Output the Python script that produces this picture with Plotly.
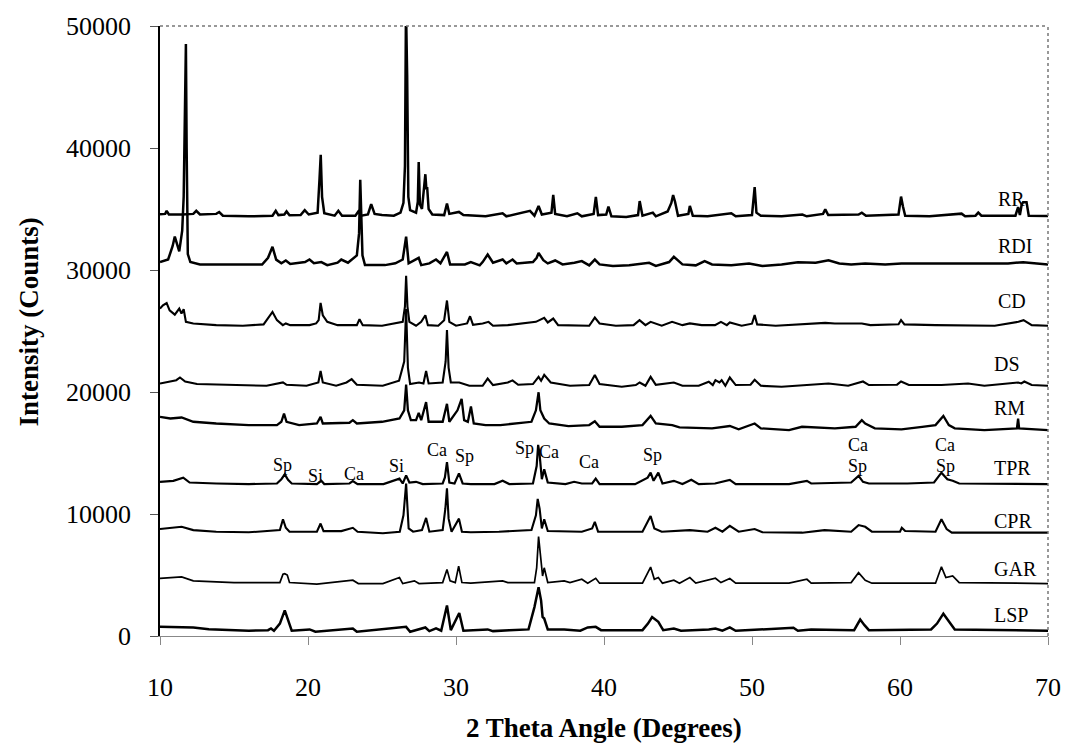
import plotly.graph_objects as go

# ---------------- data: (2-theta in degrees, intensity in counts) ----------------
RR = [(10.0, 34570), (10.35, 34600), (10.45, 34850), (10.6, 34550), (11.5, 34550), (12.25, 34600), (12.45, 34850),
      (12.7, 34550), (13.8, 34600), (14.0, 34750), (14.25, 34450), (16.0, 34400), (17.6, 34450), (17.82, 34850),
      (18.0, 34500), (18.4, 34550), (18.55, 34800), (18.75, 34480), (19.5, 34500), (19.78, 34900), (20.05, 34550),
      (20.65, 34700), (20.78, 37500), (20.86, 39450), (20.95, 36000), (21.1, 34650), (21.8, 34450), (22.05, 34850),
      (22.3, 34450), (23.2, 34450), (23.4, 34800), (23.6, 34450), (24.05, 34550), (24.27, 35400), (24.5, 34600),
      (25.0, 34500), (25.8, 34450), (26.25, 34700), (26.45, 35500), (26.55, 38500), (26.62, 51500), (26.7, 46000),
      (26.78, 36000), (26.9, 34900), (27.3, 34700), (27.42, 35600), (27.48, 38850), (27.56, 35400), (27.7, 35000),
      (27.82, 36800), (27.93, 37850), (28.0, 36600), (28.05, 36800), (28.15, 35000), (28.4, 34550), (29.2, 34500),
      (29.39, 35450), (29.55, 34600), (30.2, 34760), (30.5, 34500), (32.0, 34400), (33.15, 34650), (33.4, 34400),
      (35.0, 34850), (35.3, 34450), (35.58, 35250), (35.8, 34550), (36.45, 34700), (36.57, 36150), (36.7, 34600),
      (37.5, 34400), (38.2, 34650), (38.5, 34400), (39.3, 34600), (39.45, 36000), (39.6, 34500), (40.15, 34550),
      (40.3, 35200), (40.5, 34400), (41.5, 34350), (42.3, 34500), (42.41, 35650), (42.6, 34450), (43.3, 34700),
      (43.5, 34400), (44.3, 34800), (44.55, 35500), (44.67, 36150), (44.8, 35600), (45.0, 34450), (45.7, 34600),
      (45.8, 35250), (46.0, 34450), (47.0, 34400), (48.6, 34650), (48.9, 34400), (50.0, 34500), (50.18, 36800),
      (50.3, 34700), (50.6, 34450), (52.0, 34400), (53.4, 34550), (53.7, 34400), (54.8, 34600), (54.95, 34970),
      (55.15, 34500), (57.2, 34550), (57.42, 34700), (57.7, 34450), (59.9, 34550), (60.07, 36020), (60.2, 35200),
      (60.35, 34450), (62.0, 34400), (64.16, 34620), (64.4, 34400), (65.1, 34450), (65.29, 34700), (65.5, 34450),
      (67.8, 34450), (67.98, 35160), (68.1, 34500), (68.22, 35350), (68.32, 35560), (68.55, 35560), (68.7, 34450),
      (70.0, 34420)]

RDI = [(10.0, 30650), (10.55, 30860), (10.85, 31950), (11.0, 32740), (11.3, 31530), (11.5, 33230), (11.6, 36000),
       (11.68, 45000), (11.75, 48520), (11.8, 40000), (11.88, 31300), (12.05, 30650), (12.7, 30460), (15.0, 30460),
       (16.9, 30450), (17.3, 31000), (17.6, 31900), (17.85, 30850), (18.2, 30550), (18.5, 30780), (18.8, 30500),
       (19.8, 30650), (20.1, 30860), (20.4, 30550), (20.9, 30650), (21.3, 30400), (22.0, 30600), (22.25, 30860),
       (22.7, 30600), (23.3, 31200), (23.45, 33000), (23.53, 37400), (23.6, 34000), (23.68, 31200), (23.85, 30400),
       (25.2, 30400), (25.9, 30550), (26.4, 30860), (26.63, 32740), (26.8, 30550), (27.48, 31000), (27.65, 30400),
       (28.2, 30540), (28.65, 30860), (28.95, 30550), (29.39, 31480), (29.6, 30460), (30.6, 30460), (31.0, 30650),
       (31.6, 30380), (31.8, 30650), (32.14, 31270), (32.5, 30600), (33.15, 30860), (33.4, 30540), (33.82, 30860),
       (34.1, 30540), (35.2, 30650), (35.45, 31000), (35.58, 31400), (35.9, 30800), (36.2, 30540), (36.7, 30780),
       (37.2, 30460), (38.0, 30600), (38.5, 30730), (39.0, 30380), (39.38, 30860), (39.7, 30460), (40.6, 30330),
       (41.7, 30380), (43.05, 30590), (43.5, 30330), (44.4, 30650), (44.72, 31080), (45.3, 30460), (46.2, 30380),
       (46.8, 30730), (47.3, 30460), (48.6, 30380), (49.8, 30540), (50.7, 30330), (52.0, 30450), (53.1, 30640),
       (54.3, 30590), (55.17, 30800), (55.9, 30540), (56.7, 30450), (57.65, 30540), (59.0, 30450), (60.1, 30540),
       (62.1, 30540), (64.6, 30590), (67.3, 30540), (68.32, 30640), (70.0, 30450)]

CD = [(10.0, 26830), (10.2, 27100), (10.45, 27290), (10.65, 26690), (11.0, 26340), (11.3, 26830), (11.45, 26430),
      (11.6, 26780), (11.75, 25750), (12.25, 25620), (13.8, 25480), (15.6, 25430), (17.0, 25540), (17.4, 26160),
      (17.6, 26560), (17.9, 25890), (18.3, 25480), (18.5, 25620), (18.8, 25480), (20.1, 25480), (20.55, 25620),
      (20.72, 25890), (20.85, 27310), (21.0, 26290), (21.3, 25750), (22.0, 25480), (23.3, 25480), (23.48, 25970),
      (23.7, 25480), (25.0, 25430), (26.4, 25750), (26.55, 27000), (26.63, 29520), (26.72, 27000), (26.85, 25750),
      (27.3, 25430), (27.65, 25750), (27.93, 26290), (28.1, 25480), (28.8, 25430), (29.2, 25890), (29.39, 27500),
      (29.55, 25750), (30.0, 25430), (30.75, 25620), (30.95, 26210), (31.15, 25500), (31.8, 25620), (32.2, 25750),
      (32.5, 25430), (33.5, 25480), (35.4, 25750), (35.96, 26080), (36.2, 25700), (36.57, 26020), (36.9, 25480),
      (38.1, 25480), (39.0, 25430), (39.38, 26100), (39.7, 25620), (40.8, 25430), (42.0, 25480), (42.4, 25890),
      (42.8, 25480), (43.15, 25750), (43.9, 25430), (44.6, 25750), (45.3, 25480), (45.8, 25620), (46.6, 25480),
      (47.5, 25480), (47.9, 25750), (48.3, 25480), (48.5, 25700), (49.3, 25430), (50.0, 25600), (50.18, 26300),
      (50.35, 25540), (51.6, 25430), (53.4, 25540), (54.95, 25670), (55.6, 25620), (57.42, 25620), (58.0, 25480),
      (59.9, 25550), (60.07, 25890), (60.3, 25540), (62.4, 25480), (64.6, 25480), (66.4, 25430), (68.0, 25750),
      (68.35, 25890), (68.9, 25480), (70.0, 25430)]

DS = [(10.0, 20700), (11.1, 20970), (11.35, 21190), (11.7, 20860), (12.5, 20650), (15.0, 20590), (17.2, 20510),
      (18.31, 20780), (18.55, 20590), (19.9, 20510), (20.7, 20780), (20.85, 21720), (21.0, 20780), (21.9, 20510),
      (22.6, 20780), (22.95, 21050), (23.3, 20590), (25.05, 20510), (26.15, 20920), (26.5, 22500), (26.63, 26800),
      (26.75, 22000), (26.9, 20650), (27.5, 20780), (27.8, 20700), (27.98, 21720), (28.15, 20700), (29.1, 20780),
      (29.3, 22500), (29.39, 25080), (29.5, 22000), (29.65, 20780), (30.22, 20780), (30.9, 20510), (31.8, 20510),
      (32.14, 21100), (32.5, 20570), (33.5, 20780), (33.82, 20950), (34.2, 20590), (35.2, 20650), (35.58, 21240),
      (35.75, 20920), (35.96, 21400), (36.4, 20780), (37.7, 20510), (39.0, 20570), (39.38, 21400), (39.7, 20650),
      (41.2, 20430), (42.15, 20570), (42.41, 20780), (42.8, 20510), (43.15, 21240), (43.5, 20590), (44.72, 20780),
      (45.3, 20510), (46.4, 20510), (47.08, 20840), (47.35, 20570), (47.53, 20970), (47.8, 20780), (47.95, 20970),
      (48.2, 20510), (48.5, 21190), (48.9, 20570), (49.9, 20600), (50.18, 21000), (50.6, 20510), (52.0, 20430),
      (53.4, 20570), (55.17, 20700), (56.5, 20510), (57.5, 20860), (57.9, 20570), (59.8, 20600), (60.07, 20860),
      (60.6, 20570), (62.8, 20570), (64.6, 20700), (65.7, 20510), (67.98, 20780), (68.2, 20700), (68.4, 20860),
      (68.9, 20570), (70.0, 20510)]

RM = [(10.0, 17960), (10.7, 17830), (11.46, 17910), (12.25, 17560), (13.8, 17420), (16.0, 17290), (17.9, 17290),
      (18.2, 17560), (18.38, 18230), (18.55, 17560), (19.4, 17290), (20.6, 17420), (20.85, 17960), (21.0, 17420),
      (22.8, 17480), (23.03, 17690), (23.3, 17420), (25.0, 17560), (26.18, 17830), (26.5, 18500), (26.63, 20600),
      (26.75, 18500), (26.95, 17690), (27.3, 17690), (27.48, 18280), (27.65, 17690), (27.98, 19170), (28.15, 17560),
      (29.1, 17560), (29.39, 19030), (29.55, 17560), (30.1, 18500), (30.38, 19440), (30.55, 17690), (30.8, 17560),
      (31.01, 18820), (31.2, 17420), (32.0, 17290), (33.0, 17290), (35.1, 17560), (35.4, 18500), (35.58, 19980),
      (35.7, 18500), (35.96, 17830), (36.3, 17420), (37.6, 17210), (39.0, 17290), (39.38, 17600), (39.7, 17150),
      (41.2, 17150), (42.6, 17290), (43.15, 18040), (43.5, 17420), (44.61, 17290), (45.1, 17100), (47.3, 17020),
      (48.5, 17210), (49.1, 16940), (50.18, 17420), (50.6, 17020), (52.5, 16880), (53.38, 17150), (55.6, 17020),
      (57.0, 17150), (57.42, 17690), (57.65, 17420), (58.3, 17020), (60.1, 16940), (61.5, 17150), (62.4, 17290),
      (62.93, 18040), (63.3, 17290), (63.7, 17020), (65.7, 16880), (67.9, 17020), (67.98, 17820), (68.05, 17020),
      (70.0, 16880)]

TPR = [(10.0, 12640), (10.9, 12720), (11.57, 12980), (12.0, 12580), (13.8, 12500), (16.0, 12450), (17.9, 12500),
       (18.2, 12850), (18.43, 13250), (18.65, 12800), (18.9, 12500), (20.6, 12450), (20.9, 12720), (21.1, 12450),
       (22.8, 12500), (23.03, 12690), (23.35, 12450), (25.1, 12450), (26.18, 12900), (26.4, 12500), (26.63, 13170),
       (26.85, 12580), (27.3, 12640), (27.75, 12450), (29.1, 12500), (29.25, 13000), (29.39, 14250), (29.55, 12580),
       (29.9, 12500), (30.2, 13330), (30.45, 12500), (31.0, 12450), (32.6, 12450), (33.15, 12720), (33.6, 12450),
       (35.2, 12500), (35.45, 13930), (35.55, 15670), (35.65, 14870), (35.8, 12850), (35.96, 13660), (36.2, 12580),
       (37.4, 12450), (37.98, 12640), (38.5, 12500), (39.2, 12500), (39.44, 12900), (39.7, 12450), (42.1, 12450),
       (42.95, 12980), (43.15, 13390), (43.35, 12720), (43.67, 13390), (43.95, 12500), (44.72, 12720), (45.3, 12450),
       (45.9, 12800), (46.4, 12450), (47.5, 12500), (48.5, 12800), (48.9, 12450), (52.5, 12450), (53.71, 12720),
       (54.0, 12500), (56.7, 12580), (57.2, 13120), (57.5, 12640), (57.9, 12500), (60.5, 12500), (62.3, 12580),
       (62.8, 13390), (63.2, 12850), (63.56, 12720), (64.0, 12500), (70.0, 12450)]

CPR = [(10.0, 8770), (11.46, 8950), (12.25, 8680), (13.8, 8550), (16.0, 8500), (18.1, 8680), (18.31, 9570),
       (18.5, 8870), (18.75, 8550), (20.6, 8550), (20.85, 9220), (21.05, 8600), (22.25, 8600), (23.03, 8870),
       (23.35, 8550), (25.06, 8420), (26.2, 8550), (26.45, 9890), (26.63, 12500), (26.8, 8820), (27.1, 8550),
       (27.7, 8680), (27.98, 9680), (28.2, 8550), (29.1, 8680), (29.28, 10430), (29.39, 12100), (29.5, 9620),
       (29.7, 8550), (30.05, 9220), (30.2, 9620), (30.4, 8550), (31.0, 8500), (32.9, 8550), (35.1, 8680),
       (35.4, 9890), (35.52, 11240), (35.65, 10430), (35.8, 8820), (35.96, 9570), (36.2, 8600), (38.5, 8550),
       (39.2, 8820), (39.38, 9360), (39.6, 8550), (42.6, 8550), (43.15, 9840), (43.4, 8820), (43.9, 8550),
       (45.8, 8680), (47.0, 8550), (47.53, 8870), (48.0, 8550), (48.5, 9030), (49.1, 8550), (50.18, 8770),
       (50.7, 8500), (53.4, 8470), (54.9, 8680), (56.7, 8550), (57.2, 9090), (57.65, 8950), (58.1, 8550),
       (60.0, 8550), (60.12, 8870), (60.35, 8600), (62.4, 8550), (62.8, 9570), (63.15, 8770), (63.5, 8470),
       (70.0, 8470)]

GAR = [(10.0, 4730), (11.46, 4840), (12.25, 4520), (15.0, 4380), (18.1, 4380), (18.31, 5060), (18.43, 5110),
       (18.6, 5000), (18.75, 4380), (20.6, 4250), (23.03, 4570), (23.4, 4300), (25.06, 4300), (26.18, 4790),
       (26.4, 4300), (27.19, 4520), (27.5, 4300), (29.1, 4380), (29.39, 5460), (29.6, 4520), (29.95, 4380),
       (30.18, 5730), (30.4, 4380), (31.0, 4330), (33.15, 4520), (33.5, 4380), (35.3, 4380), (35.45, 5590),
       (35.58, 8150), (35.7, 6670), (35.85, 4920), (35.96, 5590), (36.2, 4380), (37.31, 4520), (37.7, 4380),
       (38.5, 4650), (38.9, 4330), (39.44, 4730), (39.7, 4330), (42.6, 4330), (43.15, 5650), (43.4, 4650),
       (43.67, 4790), (43.95, 4330), (44.72, 4570), (45.1, 4330), (45.8, 4790), (46.2, 4330), (47.53, 4730),
       (47.9, 4380), (48.5, 4710), (48.9, 4330), (52.5, 4330), (53.71, 4650), (54.0, 4330), (56.7, 4380),
       (57.2, 5190), (57.65, 4570), (58.1, 4330), (62.4, 4330), (62.8, 5670), (63.1, 4790), (63.56, 4920),
       (64.0, 4380), (70.0, 4300)]

LSP = [(10.0, 750), (12.25, 700), (13.3, 560), (16.0, 430), (17.3, 480), (17.5, 620), (17.7, 430), (18.1, 1020),
       (18.43, 2100), (18.7, 1020), (18.9, 430), (20.11, 540), (20.5, 350), (23.03, 620), (23.3, 350), (26.63, 750),
       (26.9, 350), (27.93, 700), (28.2, 400), (28.65, 620), (29.0, 430), (29.39, 2500), (29.65, 480), (30.22, 1880),
       (30.5, 430), (32.14, 540), (32.5, 400), (33.6, 480), (34.9, 540), (35.3, 2370), (35.58, 4000), (35.75, 2900),
       (35.85, 1560), (35.96, 1430), (36.2, 540), (37.31, 540), (38.4, 430), (38.9, 700), (39.44, 750), (39.8, 480),
       (42.6, 480), (42.97, 1020), (43.25, 1560), (43.67, 1160), (44.0, 480), (44.72, 620), (45.2, 430),
       (47.08, 540), (47.53, 620), (48.0, 430), (48.5, 700), (48.9, 430), (52.8, 670), (53.1, 430), (54.0, 540),
       (56.9, 480), (57.31, 1350), (57.6, 890), (57.9, 480), (62.1, 540), (62.5, 1020), (62.93, 1830), (63.3, 1160),
       (63.7, 540), (70.0, 430)]

SAMPLE_NAMES = ["RR", "RDI", "CD", "DS", "RM", "TPR", "CPR", "GAR", "LSP"]
SAMPLES = [RR, RDI, CD, DS, RM, TPR, CPR, GAR, LSP]
# label position for each sample name (2-theta, counts)
NAME_POS = [(66.5, 35830), (66.5, 31940), (66.5, 27500), (66.2, 22260), (66.2, 18710),
            (66.2, 13730), (66.2, 9410), (66.2, 5460), (66.2, 1690)]

# phase annotations on the TPR pattern (text, 2-theta, counts)
PHASE_LABELS = [("Sp", 18.3, 13980), ("Si", 20.5, 13120), ("Ca", 23.1, 13250), ("Si", 25.95, 13920),
                ("Ca", 28.7, 15270), ("Sp", 30.56, 14730), ("Sp", 34.6, 15400), ("Ca", 36.25, 15060),
                ("Ca", 39.0, 14250), ("Sp", 43.3, 14810), ("Ca", 57.15, 15670), ("Sp", 57.15, 13920),
                ("Ca", 63.05, 15670), ("Sp", 63.05, 13920)]

X_TICKS = [10, 20, 30, 40, 50, 60, 70]
Y_TICKS = [0, 10000, 20000, 30000, 40000, 50000]

LINE_WIDTHS = [2.5, 2.5, 2.1, 2.1, 2.3, 2.2, 2.1, 1.7, 2.5]

SERIF = "Liberation Serif, Times New Roman, serif"

fig = go.Figure()
for name, pts, lw in zip(SAMPLE_NAMES, SAMPLES, LINE_WIDTHS):
    fig.add_trace(go.Scatter(
        x=[p[0] for p in pts], y=[p[1] for p in pts], mode="lines", name=name,
        line=dict(color="black", width=lw), showlegend=False, hoverinfo="x+y+name"))

annotations = []
for name, (tx, ty) in zip(SAMPLE_NAMES, NAME_POS):
    annotations.append(dict(x=tx, y=ty, text=name, showarrow=False, xanchor="left", yanchor="middle",
                            font=dict(family=SERIF, size=20, color="black")))
for txt, tx, ty in PHASE_LABELS:
    annotations.append(dict(x=tx, y=ty, text=txt, showarrow=False, xanchor="center", yanchor="middle",
                            font=dict(family=SERIF, size=18, color="black")))
# axis titles
annotations.append(dict(x=0.5, y=-0.15, xref="paper", yref="paper", text="<b>2 Theta Angle (Degrees)</b>",
                        showarrow=False, xanchor="center", yanchor="middle",
                        font=dict(family=SERIF, size=27, color="black")))
annotations.append(dict(x=-0.148, y=0.515, xref="paper", yref="paper", text="<b>Intensity (Counts)</b>",
                        showarrow=False, xanchor="center", yanchor="middle", textangle=-90,
                        font=dict(family=SERIF, size=27, color="black")))

fig.update_layout(
    width=1073, height=745,
    margin=dict(l=160, r=23, t=16, b=109),
    plot_bgcolor="white", paper_bgcolor="white",
    annotations=annotations,
    shapes=[
        dict(type="line", xref="paper", yref="paper", x0=0, x1=1, y0=1, y1=1,
             line=dict(color="#777777", width=1.5, dash="dot")),
        dict(type="line", xref="paper", yref="paper", x0=1, x1=1, y0=0, y1=1,
             line=dict(color="#777777", width=1.5, dash="dot")),
    ],
)
fig.update_xaxes(range=[10, 70], tickvals=X_TICKS, ticktext=[str(v) for v in X_TICKS],
                 showgrid=False, zeroline=False, showline=True, linecolor="#888888", linewidth=1,
                 ticks="outside", ticklen=8, tickcolor="#888888", ticklabelstandoff=20,
                 tickfont=dict(family=SERIF, size=26, color="black"))
fig.update_yaxes(range=[0, 50000], tickvals=Y_TICKS, ticktext=[str(v) for v in Y_TICKS],
                 showgrid=False, zeroline=False, showline=True, linecolor="black", linewidth=1.5,
                 ticks="outside", ticklen=8, tickcolor="#555555", ticklabelstandoff=14,
                 tickfont=dict(family=SERIF, size=26, color="black"))

fig.write_html("out.html")
